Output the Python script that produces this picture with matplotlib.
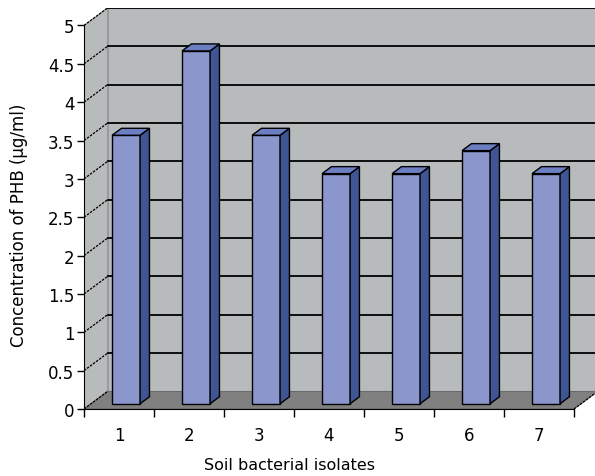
import matplotlib
matplotlib.use("Agg")
import matplotlib.pyplot as plt
from matplotlib.patches import Polygon

plt.rcParams["font.family"] = ["DejaVu Sans"]

# data
isolates = ["1", "2", "3", "4", "5", "6", "7"]
phb = [3.5, 4.6, 3.5, 3.0, 3.0, 3.3, 3.0]
y_ticks = [0, 0.5, 1, 1.5, 2, 2.5, 3, 3.5, 4, 4.5, 5]
y_labels = ["0", "0.5", "1", "1.5", "2", "2.5", "3", "3.5", "4", "4.5", "5"]

# pseudo-3d depth offsets (data units)
DX = 0.336
DY = 0.228
YMAX = 5.0
N = len(isolates)

WALL = "#b7bbbb"
FLOOR = "#808080"
FRONT = "#8a96cc"
SIDE = "#3f5594"
TOP = "#6b7ec2"

fig = plt.figure(figsize=(5.95, 4.77), dpi=100)
ax = fig.add_axes([84 / 595, 67 / 477, (597.5 - 84) / 595, (410 - 9) / 477])
ax.set_xlim(0, N + DX)
ax.set_ylim(0, YMAX + DY)

# back wall, side wall, floor
ax.add_patch(Polygon([(DX, DY), (N + DX, DY), (N + DX, YMAX + DY), (DX, YMAX + DY)],
                     closed=True, facecolor=WALL, edgecolor="#9a9a9a", lw=0.8, zorder=1))
ax.add_patch(Polygon([(0, 0), (DX, DY), (DX, YMAX + DY), (0, YMAX)],
                     closed=True, facecolor=WALL, edgecolor="#9a9a9a", lw=0.8, zorder=1))
ax.add_patch(Polygon([(0, 0), (N, 0), (N + DX, DY), (DX, DY)],
                     closed=True, facecolor=FLOOR, edgecolor="#6a6a6a", lw=0.8, zorder=2))

# gridlines on back wall and side wall
for yv in y_ticks[1:]:
    ax.plot([DX, N + DX], [yv + DY, yv + DY], color="black", lw=1.3, zorder=2)
    ax.plot([0, DX], [yv, yv + DY], color="black", lw=0.9, ls=(0, (2, 1)), zorder=2)
ax.plot([0, DX], [0, DY], color="black", lw=0.9, ls=(0, (2, 1)), zorder=3)
ax.plot([N, N + DX], [0, DY], color="black", lw=0.9, ls=(0, (2, 1)), zorder=3)

# bars
f0, f1 = 0.30, 0.70  # depth fraction of bar front / back
w = 0.4
for i, v in enumerate(phb):
    x0 = i + 0.5 - w / 2 + f0 * DX
    x1 = x0 + w
    yb = f0 * DY
    ddx = (f1 - f0) * DX
    ddy = (f1 - f0) * DY
    top = v + yb
    ax.add_patch(Polygon([(x0, yb), (x1, yb), (x1, top), (x0, top)], closed=True,
                         facecolor=FRONT, edgecolor="black", lw=1.0, zorder=5))
    ax.add_patch(Polygon([(x1, yb), (x1 + ddx, yb + ddy), (x1 + ddx, top + ddy), (x1, top)],
                         closed=True, facecolor=SIDE, edgecolor="black", lw=1.0, zorder=5))
    ax.add_patch(Polygon([(x0, top), (x1, top), (x1 + ddx, top + ddy), (x0 + ddx, top + ddy)],
                         closed=True, facecolor=TOP, edgecolor="black", lw=1.0, zorder=5))

# axes
for s in ["top", "right"]:
    ax.spines[s].set_visible(False)
ax.spines["left"].set_bounds(0, YMAX)
ax.spines["bottom"].set_bounds(0, N)
ax.spines["left"].set_zorder(6)
ax.spines["bottom"].set_zorder(6)

ax.set_yticks(y_ticks)
ax.set_yticklabels(y_labels, fontsize=12)
ax.set_xticks(range(N + 1))
ax.set_xticklabels([])
ax.set_xticks([i + 0.5 for i in range(N)], minor=True)
ax.set_xticklabels(isolates, minor=True, fontsize=12)
ax.tick_params(axis="x", which="major", length=6, width=1, direction="out")
ax.tick_params(axis="x", which="minor", length=0, pad=12)
ax.tick_params(axis="y", length=5, width=1, direction="out", pad=2)

fig.text(0.486, 0.024, "Soil bacterial isolates", ha="center", va="center",
         fontsize=11.5)
fig.text(0.032, 0.528, "Concentration of PHB (µg/ml)", rotation=90,
         ha="center", va="center", fontsize=12)

fig.savefig("out.png", dpi=100, facecolor="white")
